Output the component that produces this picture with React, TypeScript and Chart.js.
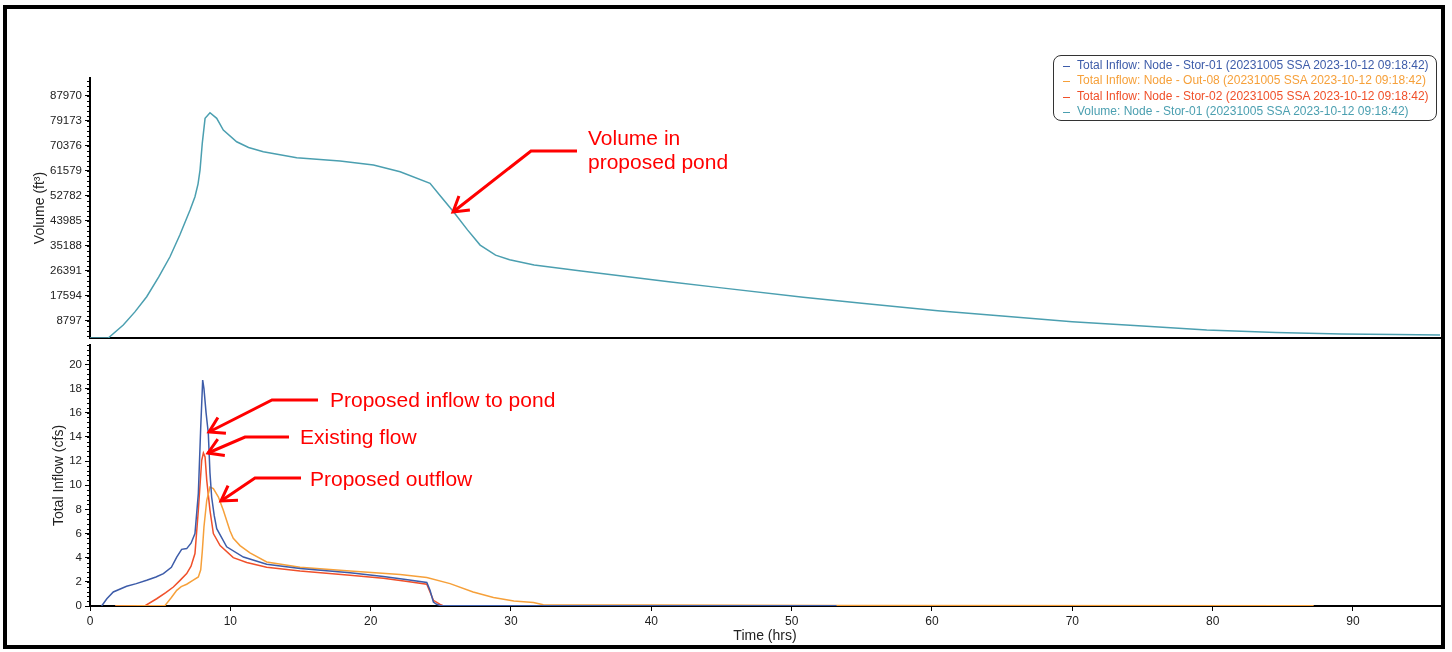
import React, { useEffect, useRef } from "react";
import { Chart, registerables } from "chart.js";

Chart.register(...registerables);

const FONT = "'Liberation Sans', Arial, Helvetica, sans-serif";

// ---------- axes ----------
const TIME_MIN = 0;
const TIME_MAX = 96.2;
const TIME_TICKS = [0, 10, 20, 30, 40, 50, 60, 70, 80, 90];

const VOLUME_MIN = 2700;
const VOLUME_MAX = 94300;
const VOLUME_TICKS = [8797, 17594, 26391, 35188, 43985, 52782, 61579, 70376, 79173, 87970];

const FLOW_MIN = 0;
const FLOW_MAX = 21.6;
const FLOW_TICKS = [0, 2, 4, 6, 8, 10, 12, 14, 16, 18, 20];

// ---------- series ----------
const VOLUME_T = [0, 1.3, 2.37, 3.2, 4.04, 4.9, 5.7, 6.4, 7.13, 7.48, 7.7, 7.84, 8.0, 8.2, 8.55, 9.03, 9.5, 10.45, 11.3, 12.35, 14.73, 17.82, 20.2, 22.1, 24.23, 25.0, 25.9, 26.9, 27.8, 28.9, 29.9, 31.65, 35, 41.25, 45, 50.82, 55, 60.41, 65, 69.99, 75, 79.58, 84.5, 89.17, 93, 96.2];
const VOLUME_V = [2700, 2700, 7260, 11900, 17230, 24200, 31320, 39000, 47770, 52460, 57000, 61860, 71270, 80080, 82050, 80080, 75960, 71830, 69800, 68310, 66200, 65030, 63630, 61270, 57180, 52560, 47170, 40800, 35440, 31900, 30300, 28400, 26340, 22510, 20360, 17020, 14970, 12300, 10450, 8420, 6890, 5500, 4660, 4090, 3900, 3730];

const STOR01_T = [0.83, 1.2, 1.66, 2.61, 3.3, 4.04, 4.7, 5.23, 5.8, 6.18, 6.53, 6.89, 7.2, 7.48, 7.72, 7.89, 8.03, 8.12, 8.27, 8.43, 8.55, 8.67, 8.85, 9.03, 9.74, 10.93, 12.59, 14.97, 18.53, 20.9, 22.5, 24.0, 24.23, 24.47, 24.7, 25.0, 53.2];
const STOR01_V = [0, 0.6, 1.16, 1.63, 1.85, 2.13, 2.4, 2.68, 3.2, 4.05, 4.69, 4.75, 5.2, 5.99, 9.3, 14.8, 18.7, 18.0, 16.0, 14.3, 11.0, 9.0, 7.5, 6.4, 4.9, 4.05, 3.45, 3.1, 2.75, 2.45, 2.2, 1.95, 1.3, 0.33, 0.14, 0.03, 0.03];

const OUT08_T = [1.8, 5.35, 5.8, 6.18, 6.5, 6.89, 7.3, 7.72, 7.89, 8.0, 8.12, 8.32, 8.55, 8.79, 9.15, 9.5, 9.98, 10.21, 10.69, 11.4, 12.59, 14.97, 18.53, 22.1, 24.0, 25.66, 27.3, 28.75, 30.2, 31.6, 32.3, 40, 53.2, 87.2];
const OUT08_V = [0, 0.05, 0.7, 1.3, 1.6, 1.8, 2.1, 2.4, 3.0, 4.5, 6.54, 8.75, 9.85, 9.71, 9.02, 7.92, 6.2, 5.6, 5.0, 4.4, 3.64, 3.2, 2.9, 2.6, 2.35, 1.85, 1.16, 0.7, 0.41, 0.28, 0.1, 0.08, 0.05, 0.03];

const STOR02_T = [1.8, 3.9, 4.75, 5.4, 5.94, 6.4, 6.89, 7.2, 7.48, 7.72, 7.96, 8.08, 8.2, 8.32, 8.55, 8.79, 9.27, 10.21, 11.17, 12.59, 14.97, 18.53, 20.9, 22.5, 24.0, 24.23, 24.47, 24.95, 25.2];
const STOR02_V = [0, 0, 0.6, 1.1, 1.57, 2.1, 2.68, 3.3, 4.34, 7.92, 12.06, 12.66, 12.33, 10.4, 7.92, 6.0, 5.0, 4.0, 3.6, 3.2, 2.9, 2.55, 2.3, 2.05, 1.8, 1.16, 0.47, 0.14, 0];

const SERIES_LABELS = [
  "Total Inflow: Node - Stor-01 (20231005 SSA 2023-10-12 09:18:42)",
  "Total Inflow: Node - Out-08 (20231005 SSA 2023-10-12 09:18:42)",
  "Total Inflow: Node - Stor-02 (20231005 SSA 2023-10-12 09:18:42)",
  "Volume: Node - Stor-01 (20231005 SSA 2023-10-12 09:18:42)",
];
const SERIES_COLORS = ["#3d5ca9", "#f6a03a", "#f0502a", "#4b9fb0"];

const VOLUME_TITLE = "Volume (ft\u00B3)";
const FLOW_TITLE = "Total Inflow (cfs)";
const TIME_TITLE = "Time (hrs)";

const ANNOTATIONS = [
  { lines: ["Volume in", "proposed pond"], tx: 588, ty: 145, path: [[577, 151], [531, 151], [453, 212]] },
  { lines: ["Proposed inflow to pond"], tx: 330, ty: 407, path: [[318, 400], [272, 400], [209, 432]] },
  { lines: ["Existing flow"], tx: 300, ty: 444, path: [[289, 437], [245, 437], [208, 453]] },
  { lines: ["Proposed outflow"], tx: 310, ty: 486, path: [[301, 478], [255, 478], [221, 501]] },
];

function xy(t: number[], v: number[]) {
  return t.map((x, i) => ({ x, y: v[i] }));
}

const minorTicks = {
  id: "minorTicks",
  afterDatasetsDraw(chart: any) {
    const s = chart.scales.y;
    const vals = s.ticks.map((t: any) => t.value);
    if (vals.length < 2) return;
    const step = (vals[1] - vals[0]) / 5;
    const ctx = chart.ctx;
    ctx.save();
    ctx.strokeStyle = "#000";
    ctx.lineWidth = 1;
    ctx.beginPath();
    let v = vals[0] - Math.floor((vals[0] - s.min) / step) * step;
    for (; v <= s.max + 1e-9; v += step) {
      const y = Math.round(s.getPixelForValue(v)) + 0.5;
      ctx.moveTo(s.right - 3, y);
      ctx.lineTo(s.right, y);
    }
    ctx.stroke();
    ctx.restore();
  },
};

function lineDs(label: string, data: any, color: string) {
  return {
    label,
    data,
    borderColor: color,
    backgroundColor: color,
    borderWidth: 1.5,
    pointRadius: 0,
    tension: 0,
    fill: false,
  };
}

function yAxis(title: string, ticks: number[], min: number, max: number, titlePad: number) {
  return {
    type: "linear" as const,
    position: "left" as const,
    min,
    max,
    afterFit: (s: any) => {
      s.width = 90;
    },
    afterBuildTicks: (s: any) => {
      s.ticks = ticks.map((value) => ({ value }));
    },
    ticks: {
      color: "#222",
      font: { family: FONT, size: 11.5 },
      padding: 3,
      callback: (v: any) => String(v),
    },
    grid: { drawOnChartArea: false, drawTicks: true, tickLength: 5, color: "#000", lineWidth: 1 },
    border: { display: true, color: "#000", width: 2 },
    title: {
      display: true,
      text: title,
      color: "#222",
      font: { family: FONT, size: 14 },
      padding: { top: titlePad, bottom: 0 },
    },
  };
}

function arrowHead(path: number[][]) {
  const [ex, ey] = path[path.length - 2];
  const [tx, ty] = path[path.length - 1];
  const a = Math.atan2(ey - ty, ex - tx);
  const L = 17;
  const s = 0.55;
  return [
    [tx + L * Math.cos(a + s), ty + L * Math.sin(a + s)],
    [tx, ty],
    [tx + L * Math.cos(a - s), ty + L * Math.sin(a - s)],
  ];
}

export default function App() {
  const topRef = useRef<HTMLCanvasElement>(null);
  const botRef = useRef<HTMLCanvasElement>(null);

  useEffect(() => {
    const top = new Chart(topRef.current as HTMLCanvasElement, {
      type: "line",
      data: {
        datasets: [lineDs(SERIES_LABELS[3], xy(VOLUME_T, VOLUME_V), SERIES_COLORS[3]) as any],
      },
      options: {
        animation: false,
        responsive: false,
        devicePixelRatio: 1,
        layout: { padding: { left: 0, top: 78, right: 12, bottom: 0 } },
        plugins: { legend: { display: false }, tooltip: { enabled: false } },
        scales: {
          x: {
            type: "linear",
            min: TIME_MIN,
            max: TIME_MAX,
            afterFit: (s: any) => {
              s.height = 14;
            },
            ticks: { display: false },
            grid: { display: false, drawTicks: false },
            border: { display: true, color: "#000", width: 2 },
          },
          y: yAxis(VOLUME_TITLE, VOLUME_TICKS, VOLUME_MIN, VOLUME_MAX, 31.6) as any,
        },
      },
      plugins: [minorTicks],
    });

    const bot = new Chart(botRef.current as HTMLCanvasElement, {
      type: "line",
      data: {
        datasets: [
          lineDs(SERIES_LABELS[0], xy(STOR01_T, STOR01_V), SERIES_COLORS[0]) as any,
          lineDs(SERIES_LABELS[1], xy(OUT08_T, OUT08_V), SERIES_COLORS[1]) as any,
          lineDs(SERIES_LABELS[2], xy(STOR02_T, STOR02_V), SERIES_COLORS[2]) as any,
        ],
      },
      options: {
        animation: false,
        responsive: false,
        devicePixelRatio: 1,
        layout: { padding: { left: 0, top: 13, right: 12, bottom: 0 } },
        plugins: { legend: { display: false }, tooltip: { enabled: false } },
        scales: {
          x: {
            type: "linear",
            min: TIME_MIN,
            max: TIME_MAX,
            afterFit: (s: any) => {
              s.height = 38;
            },
            afterBuildTicks: (s: any) => {
              s.ticks = TIME_TICKS.map((value) => ({ value }));
            },
            ticks: {
              color: "#222",
              font: { family: FONT, size: 12 },
              padding: 3,
              maxRotation: 0,
              callback: (v: any) => String(v),
            },
            grid: { drawOnChartArea: false, drawTicks: true, tickLength: 5, color: "#000" },
            border: { display: true, color: "#000", width: 2 },
            title: {
              display: true,
              text: TIME_TITLE,
              color: "#222",
              font: { family: FONT, size: 14 },
              padding: { top: 0, bottom: -1 },
            },
          },
          y: yAxis(FLOW_TITLE, FLOW_TICKS, FLOW_MIN, FLOW_MAX, 50.6) as any,
        },
      },
      plugins: [minorTicks],
    });

    return () => {
      top.destroy();
      bot.destroy();
    };
  }, []);

  return (
    <div style={{ position: "absolute", left: 0, top: 0, width: 1452, height: 652, background: "#fff", overflow: "hidden" }}>
      <div
        style={{
          position: "absolute",
          left: 3,
          top: 5,
          width: 1442,
          height: 644,
          border: "4px solid #000",
          boxSizing: "border-box",
        }}
      />
      <canvas ref={topRef} width={1452} height={352} style={{ position: "absolute", left: 0, top: 0 }} />
      <canvas ref={botRef} width={1452} height={312} style={{ position: "absolute", left: 0, top: 332 }} />
      <div
        style={{
          position: "absolute",
          left: 1053,
          top: 55,
          width: 384,
          height: 66,
          border: "1px solid #333",
          borderRadius: 8,
          boxSizing: "border-box",
          background: "#fff",
          fontFamily: FONT,
          fontSize: 12,
        }}
      >
        {SERIES_LABELS.map((label, i) => (
          <div
            key={i}
            style={{
              position: "absolute",
              left: 0,
              top: 1.5 + i * 15.5,
              height: 15.5,
              lineHeight: "15.5px",
              whiteSpace: "nowrap",
              color: SERIES_COLORS[i],
            }}
          >
            <span style={{ position: "absolute", left: 9, top: 8, width: 7, height: 1, background: SERIES_COLORS[i] }} />
            <span style={{ position: "absolute", left: 23, top: 0 }}>{label}</span>
          </div>
        ))}
      </div>
      <svg width={1452} height={652} style={{ position: "absolute", left: 0, top: 0, pointerEvents: "none" }}>
        {ANNOTATIONS.map((a, i) => (
          <g key={i}>
            <polyline
              points={a.path.map((p) => p.join(",")).join(" ")}
              fill="none"
              stroke="#ff0000"
              strokeWidth={3}
            />
            <polyline
              points={arrowHead(a.path).map((p) => p.join(",")).join(" ")}
              fill="none"
              stroke="#ff0000"
              strokeWidth={3}
            />
            {a.lines.map((ln, j) => (
              <text key={j} x={a.tx} y={a.ty + j * 24} fill="#ff0000" fontFamily={FONT} fontSize={21}>
                {ln}
              </text>
            ))}
          </g>
        ))}
      </svg>
    </div>
  );
}
